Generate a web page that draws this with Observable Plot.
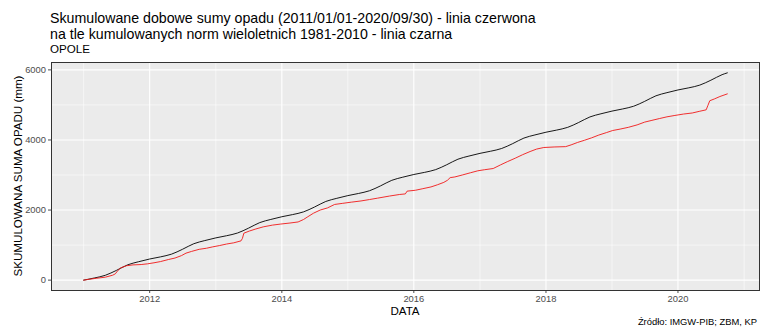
<!DOCTYPE html>
<html>
<head>
<meta charset="utf-8">
<script src="https://cdn.jsdelivr.net/npm/d3@7"></script>
<script src="https://cdn.jsdelivr.net/npm/@observablehq/plot@0.6"></script>
<style>
  body { margin: 0; background: #ffffff; }
  #chart { width: 760px; height: 329px; }
</style>
</head>
<body>
<div id="chart"></div>
<script>
// Cumulative long-term norm 1981-2010 (mm), sampled every two months
const normDates = [
  "2011-01-01","2011-03-01","2011-05-01","2011-07-01","2011-09-01","2011-11-01",
  "2012-01-01","2012-03-01","2012-05-01","2012-07-01","2012-09-01","2012-11-01",
  "2013-01-01","2013-03-01","2013-05-01","2013-07-01","2013-09-01","2013-11-01",
  "2014-01-01","2014-03-01","2014-05-01","2014-07-01","2014-09-01","2014-11-01",
  "2015-01-01","2015-03-01","2015-05-01","2015-07-01","2015-09-01","2015-11-01",
  "2016-01-01","2016-03-01","2016-05-01","2016-07-01","2016-09-01","2016-11-01",
  "2017-01-01","2017-03-01","2017-05-01","2017-07-01","2017-09-01","2017-11-01",
  "2018-01-01","2018-03-01","2018-05-01","2018-07-01","2018-09-01","2018-11-01",
  "2019-01-01","2019-03-01","2019-05-01","2019-07-01","2019-09-01","2019-11-01",
  "2020-01-01","2020-03-01","2020-05-01","2020-07-01","2020-09-01","2020-09-30"
];
const normValues = [
  0, 61, 139, 278, 436, 526,
  603, 664, 742, 881, 1039, 1129,
  1206, 1267, 1345, 1484, 1642, 1732,
  1809, 1870, 1948, 2087, 2245, 2335,
  2412, 2473, 2551, 2690, 2848, 2938,
  3015, 3076, 3154, 3293, 3451, 3541,
  3618, 3679, 3757, 3896, 4054, 4144,
  4221, 4282, 4360, 4499, 4657, 4747,
  4824, 4885, 4963, 5102, 5260, 5350,
  5427, 5488, 5566, 5705, 5863, 5915
];

// Cumulative observed daily precipitation, Opole (mm)
const obsDates = [
  "2011-01-01","2011-02-01","2011-03-15","2011-05-01","2011-06-10","2011-06-25","2011-07-10","2011-07-25",
  "2011-08-25","2011-10-01","2011-11-15","2011-12-20",
  "2012-01-25","2012-03-01","2012-04-15","2012-05-20","2012-06-25","2012-07-20","2012-08-20","2012-10-01",
  "2012-11-10","2012-12-15",
  "2013-01-20","2013-03-01","2013-04-10","2013-05-20","2013-05-28","2013-06-05","2013-07-05","2013-08-10",
  "2013-09-20","2013-11-10","2013-12-25",
  "2014-02-15","2014-04-01","2014-05-01","2014-05-25","2014-06-25","2014-08-01","2014-09-10","2014-10-20",
  "2014-12-01",
  "2015-01-20","2015-03-15","2015-05-01","2015-06-15","2015-08-20","2015-10-15","2015-11-15","2015-11-25",
  "2016-01-10","2016-02-20","2016-04-05","2016-05-10","2016-06-15","2016-07-05","2016-07-20","2016-08-15",
  "2016-09-25","2016-11-10","2016-12-20",
  "2017-01-25","2017-03-15","2017-04-25","2017-06-01","2017-07-15","2017-08-25","2017-10-05","2017-11-10",
  "2017-12-20",
  "2018-02-15","2018-04-20","2018-05-20","2018-06-25","2018-08-01","2018-09-10","2018-10-20","2018-12-01",
  "2019-01-05","2019-02-15","2019-04-01","2019-05-20","2019-07-01","2019-08-10","2019-09-20","2019-11-01",
  "2019-12-15",
  "2020-02-01","2020-03-20","2020-05-01","2020-06-05","2020-06-15","2020-06-25","2020-07-20","2020-08-20",
  "2020-09-30"
];
const obsValues = [
  0, 25, 55, 85, 140, 180, 280, 350,
  410, 435, 445, 465,
  495, 530, 590, 630, 700, 770, 820, 880,
  910, 950,
  985, 1030, 1065, 1120, 1190, 1340, 1400, 1460,
  1520, 1570, 1600,
  1630, 1660, 1730, 1810, 1910, 2000, 2060, 2160,
  2190,
  2225, 2260, 2300, 2340, 2400, 2445, 2460, 2540,
  2565, 2610, 2660, 2720, 2790, 2850, 2925, 2945,
  3000, 3065, 3120,
  3150, 3185, 3290, 3380, 3480, 3580, 3670, 3740,
  3785,
  3800, 3810, 3860, 3930, 3990, 4060, 4140, 4210,
  4270, 4310, 4360, 4430, 4510, 4560, 4610, 4660,
  4700,
  4740, 4770, 4820, 4860, 4990, 5120, 5170, 5240,
  5315
];

// Axis ticks and grid positions
const xTickYears = [2012, 2014, 2016, 2018, 2020];
const xMinorYears = [2011, 2013, 2015, 2017, 2019, 2021];
const yTicks = [0, 2000, 4000, 6000];
const yMinorTicks = [1000, 3000, 5000];

const titleLines = [
  "Skumulowane dobowe sumy opadu (2011/01/01-2020/09/30) - linia czerwona",
  "na tle kumulowanych norm wieloletnich 1981-2010 - linia czarna"
];
const subtitle = "OPOLE";
const xLabel = "DATA";
const yLabel = "SKUMULOWANA SUMA OPADU (mm)";
const caption = "Źródło: IMGW-PIB; ZBM, KP";

const parse = d3.utcParse("%Y-%m-%d");
const norm = normDates.map((d, i) => ({date: parse(d), value: normValues[i]}));
const obs = obsDates.map((d, i) => ({date: parse(d), value: obsValues[i]}));
const yearDate = (y) => new Date(Date.UTC(y, 0, 1));

// 5% expansion of both scales beyond the data range
const allDates = norm.map(d => d.date).concat(obs.map(d => d.date));
const [xMin, xMax] = d3.extent(allDates);
const xPad = (xMax - xMin) * 0.05;
const allValues = normValues.concat(obsValues);
const [vMin, vMax] = d3.extent(allValues);
const yPad = (vMax - vMin) * 0.05;

const font = "'Liberation Sans', Arial, Helvetica, sans-serif";

const chart = Plot.plot({
  width: 760,
  height: 329,
  marginTop: 62,
  marginBottom: 39,
  marginLeft: 51,
  marginRight: 1,
  style: {fontFamily: font, fontSize: "9.4px", color: "#4d4d4d", background: "#ffffff"},
  x: {
    type: "utc",
    domain: [new Date(+xMin - xPad), new Date(+xMax + xPad)],
    ticks: xTickYears.map(yearDate),
    tickFormat: d3.utcFormat("%Y"),
    tickSize: 3,
    tickPadding: 2,
    label: null
  },
  y: {
    domain: [vMin - yPad, vMax + yPad],
    ticks: yTicks,
    tickFormat: d => String(d),
    tickSize: 3,
    tickPadding: 2.5,
    label: null
  },
  marks: [
    Plot.frame({fill: "#ebebeb"}),
    Plot.ruleX(xMinorYears.map(yearDate), {stroke: "#ffffff", strokeWidth: 0.55}),
    Plot.ruleY(yMinorTicks, {stroke: "#ffffff", strokeWidth: 0.55}),
    Plot.ruleX(xTickYears.map(yearDate), {stroke: "#ffffff", strokeWidth: 1.1}),
    Plot.ruleY(yTicks, {stroke: "#ffffff", strokeWidth: 1.1}),
    Plot.line(norm, {x: "date", y: "value", stroke: "#000000", strokeWidth: 0.9, curve: "monotone-x"}),
    Plot.line(obs, {x: "date", y: "value", stroke: "#f01818", strokeWidth: 0.9}),
    Plot.frame({stroke: "#333333", strokeWidth: 1})
  ]
});

// Titles, axis titles and source note
const svg = d3.select(chart);
const txt = svg.append("g")
  .attr("font-family", font)
  .attr("fill", "#000000")
  .attr("text-anchor", "start");
titleLines.forEach((t, i) => {
  txt.append("text").attr("x", 50).attr("y", 23 + i * 16).attr("font-size", "14.2px").text(t);
});
txt.append("text").attr("x", 50).attr("y", 53.3).attr("font-size", "11.6px").text(subtitle);
txt.append("text")
  .attr("transform", "translate(21.7,176) rotate(-90)")
  .attr("text-anchor", "middle").attr("font-size", "11.6px").text(yLabel);
txt.append("text").attr("x", 405).attr("y", 315.2)
  .attr("text-anchor", "middle").attr("font-size", "11.6px").text(xLabel);
txt.append("text").attr("x", 757).attr("y", 325.4)
  .attr("text-anchor", "end").attr("font-size", "9.4px").text(caption);

document.getElementById("chart").appendChild(chart);
</script>
</body>
</html>
